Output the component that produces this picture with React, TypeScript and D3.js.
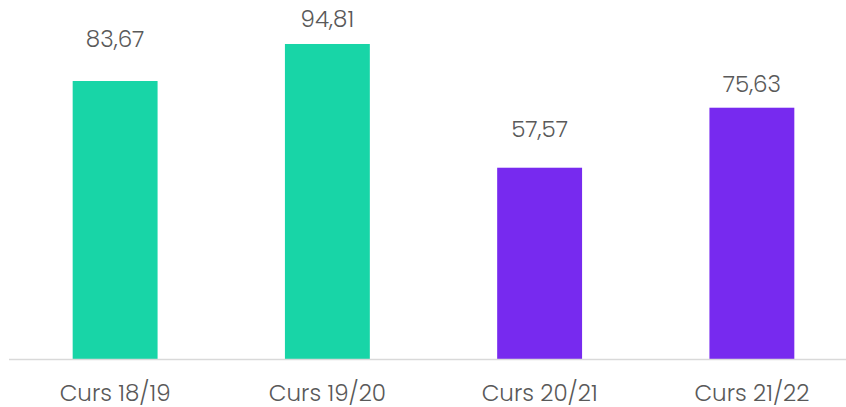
import React from "react";
import * as d3 from "d3";

const categories = ["Curs 18/19", "Curs 19/20", "Curs 20/21", "Curs 21/22"];
const values = [83.67, 94.81, 57.57, 75.63];
const colors = ["#18D5A7", "#18D5A7", "#772AEF", "#772AEF"];
const labelGaps = [34, 17, 31, 16];

const W = 846;
const H = 407;
const base = 359;

export default function App() {
  const x = d3.scaleBand<string>().domain(categories).range([9, 858]).paddingInner(0.6).paddingOuter(0.3);
  const y = d3.scaleLinear().domain([0, 100]).range([base, base - 332.25]);
  const fmt = (v: number) => v.toFixed(2).replace(".", ",");
  const font = "Poppins, 'Open Sans', sans-serif";
  return (
    <svg width={W} height={H} style={{ position: "absolute", left: 0, top: 0, background: "#fff" }}>
      {categories.map((c, i) => (
        <rect key={c} x={x(c)} y={y(values[i])} width={x.bandwidth()} height={base - y(values[i])} fill={colors[i]} />
      ))}
      <line x1={9} x2={W} y1={base + 0.5} y2={base + 0.5} stroke="#d9d9d9" strokeWidth={1.5} />
      {categories.map((c, i) => (
        <text key={"v" + c} x={(x(c) as number) + x.bandwidth() / 2} y={y(values[i]) - labelGaps[i]} textAnchor="middle" fontFamily={font} fontWeight={300} fontSize={23} fill="#595959">
          {fmt(values[i])}
        </text>
      ))}
      {categories.map((c) => (
        <text key={"c" + c} x={(x(c) as number) + x.bandwidth() / 2} y={400.5} textAnchor="middle" fontFamily={font} fontWeight={300} fontSize={23} fill="#595959">
          {c}
        </text>
      ))}
    </svg>
  );
}
